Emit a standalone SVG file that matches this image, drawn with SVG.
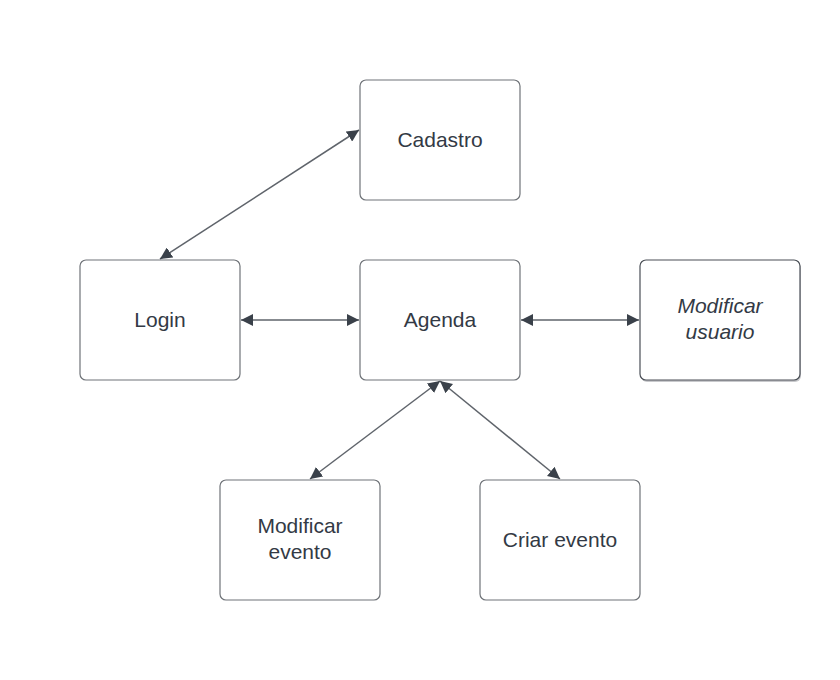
<svg xmlns="http://www.w3.org/2000/svg" width="840" height="680" viewBox="0 0 840 680">
<style>
.box{fill:#ffffff;stroke:#6f7378;stroke-width:1.2}
.lbl{font-family:"Liberation Sans",Arial,sans-serif;font-size:21px;fill:#333a45;text-anchor:middle}
.conn{stroke:#5f646b;stroke-width:1.5;fill:none;marker-start:url(#ah);marker-end:url(#ah)}
</style>
<defs>
<marker id="ah" viewBox="0 0 10 10" refX="10" refY="5" markerWidth="12" markerHeight="12" markerUnits="userSpaceOnUse" orient="auto-start-reverse">
<path d="M0,0 L10,5 L0,10 z" fill="#3a414a"/>
</marker>
</defs>
<rect width="840" height="680" fill="#ffffff"/>
<g id="connectors">
<line class="conn" x1="160" y1="259" x2="359" y2="130"/>
<line class="conn" x1="241" y1="320" x2="359" y2="320"/>
<line class="conn" x1="521" y1="320" x2="639" y2="320"/>
<line class="conn" x1="440" y1="381" x2="310" y2="479"/>
<line class="conn" x1="440" y1="381" x2="560" y2="479"/>
</g>
<g id="cadastro">
<rect class="box" x="360" y="80" width="160" height="120" rx="6"/>
<text class="lbl" x="440" y="147">Cadastro</text>
</g>
<g id="login">
<rect class="box" x="80" y="260" width="160" height="120" rx="6"/>
<text class="lbl" x="160" y="327">Login</text>
</g>
<g id="agenda">
<rect class="box" x="360" y="260" width="160" height="120" rx="6"/>
<text class="lbl" x="440" y="327">Agenda</text>
</g>
<g id="modificar-usuario">
<rect x="641" y="262" width="160" height="120" rx="6" fill="#c8c9cc"/>
<rect class="box" x="640" y="260" width="160" height="120" rx="6" style="stroke:#4a4f56"/>
<text class="lbl" x="720" y="313" font-style="italic">Modificar</text>
<text class="lbl" x="720" y="339" font-style="italic">usuario</text>
</g>
<g id="modificar-evento">
<rect class="box" x="220" y="480" width="160" height="120" rx="6"/>
<text class="lbl" x="300" y="533">Modificar</text>
<text class="lbl" x="300" y="559">evento</text>
</g>
<g id="criar-evento">
<rect class="box" x="480" y="480" width="160" height="120" rx="6"/>
<text class="lbl" x="560" y="547">Criar evento</text>
</g>
</svg>
